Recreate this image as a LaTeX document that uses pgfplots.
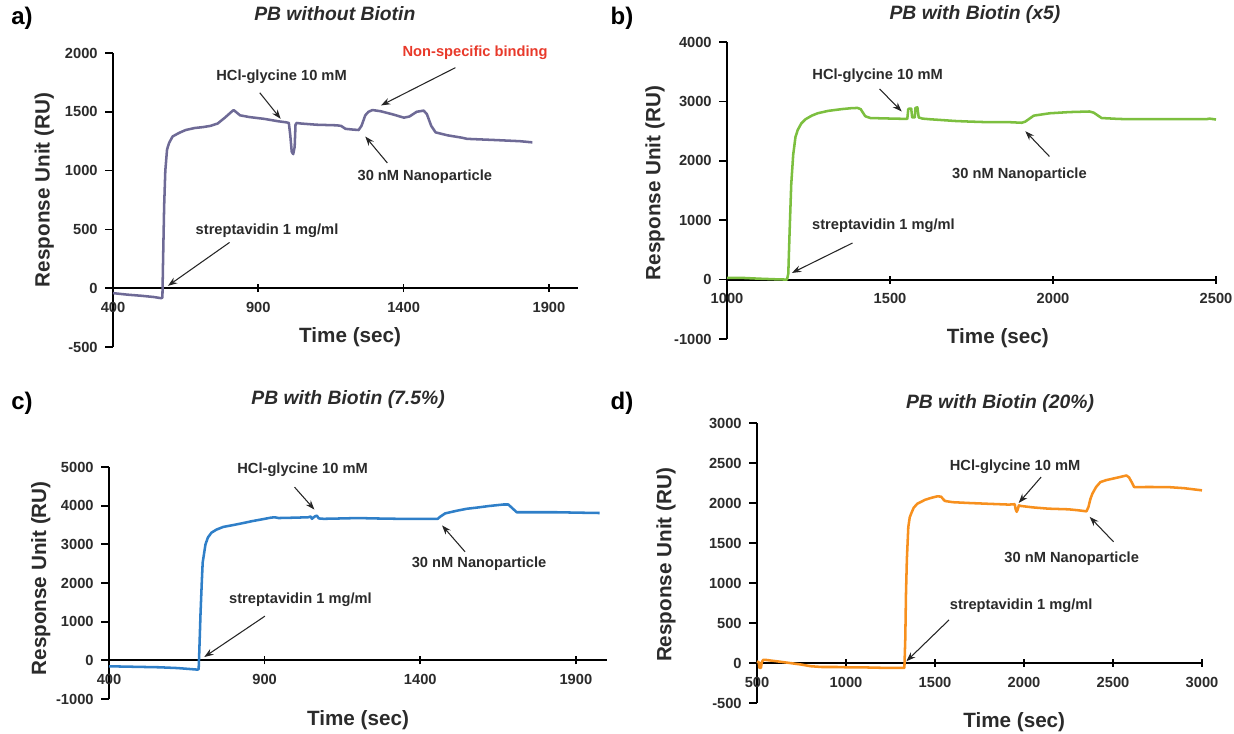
\documentclass[border=0pt]{standalone}
\usepackage{pgfplots}
\pgfplotsset{compat=1.18}
\usepackage{fontspec}
\setmainfont{Liberation Sans}
\usetikzlibrary{arrows.meta}
\definecolor{cA}{HTML}{6E6A96}
\definecolor{cB}{HTML}{7CBF3F}
\definecolor{cC}{HTML}{2F7FC8}
\definecolor{cD}{HTML}{F7901E}
\definecolor{cRed}{HTML}{E8392A}
\definecolor{txt}{HTML}{2B2B2B}
\pgfplotsset{
  every axis title shift=0pt,
  panel/.style={
    scale only axis,
    axis x line=middle, axis y line=left,
    axis line style={-, line width=1.5pt, black},
    hide obscured x ticks=false, hide obscured y ticks=false,
    xtick align=center, ytick align=outside,
    major tick length=6pt,
    every tick/.style={line width=1.3pt, black},
    tick label style={font=\bfseries\fontsize{11}{13}\selectfont, text=txt},
    xticklabel style={yshift=-4pt},
    yticklabel style={xshift=-2pt},
    label style={font=\bfseries\fontsize{15.5}{18}\selectfont, text=txt},
    title style={font=\bfseries\itshape\fontsize{14.5}{17}\selectfont, text=txt, anchor=center},
    clip=false,
    scaled ticks=false,
    /pgf/number format/1000 sep={},
    /pgf/number format/assume math mode=true,
    xlabel={Time (sec)}, ylabel={Response Unit (RU)},
  },
}
\tikzset{
  ann/.style={font=\bfseries\fontsize{11}{13}\selectfont, text=txt},
  arr/.style={-{Stealth[length=7pt,width=5pt]}, line width=0.8pt, black!85},
}
\begin{document}
\begin{tikzpicture}
\useasboundingbox (0,0) rectangle (925.5pt,550.5pt);
% panel labels
\node[font=\bfseries\fontsize{18}{20}\selectfont] at (16.5pt,537pt) {a)};
\node[font=\bfseries\fontsize{18}{20}\selectfont] at (466.5pt,537pt) {b)};
\node[font=\bfseries\fontsize{18}{20}\selectfont] at (16.5pt,248pt) {c)};
\node[font=\bfseries\fontsize{18}{20}\selectfont] at (466.5pt,248pt) {d)};

% ---------------- a
\begin{axis}[panel, at={(84.75pt,290.25pt)}, anchor=south west,
  width=348.75pt, height=220.5pt,
  xmin=400, xmax=2000, ymin=-500, ymax=2000,
  xtick={400,900,1400,1900}, ytick={-500,0,500,1000,1500,2000},
  title={PB without Biotin}, title style={at={(axis description cs:0.477,1.133)}},
  xlabel style={at={(axis description cs:0.51,0.034)}, anchor=center},
  ylabel style={at={(axis description cs:-0.148,0.534)}, anchor=center, rotate=0},
]
\addplot[cA, line width=1.9pt, line join=round] table {
400 -42
450 -55
500 -65
540 -75
566 -85
570 -80
572 200
576 700
580 1000
586 1180
593 1235
605 1290
627 1320
650 1345
681 1362
710 1370
735 1380
760 1400
785 1450
810 1505
815 1515
825 1495
837 1470
870 1455
920 1440
967 1420
997 1410
1005 1405
1010 1300
1015 1160
1020 1140
1025 1200
1028 1390
1032 1405
1048 1400
1100 1390
1170 1385
1185 1380
1200 1355
1220 1350
1245 1345
1255 1380
1268 1470
1279 1500
1293 1515
1320 1505
1360 1480
1401 1450
1420 1460
1445 1500
1469 1510
1480 1480
1495 1380
1510 1325
1551 1300
1600 1280
1618 1270
1713 1260
1800 1250
1843 1240
};
\node[ann] at (axis cs:980,1795) {HCl-glycine 10 mM};
\draw[arr] (axis cs:905,1662) -- (axis cs:977,1440);
\node[ann, text=cRed] at (axis cs:1646,2003) {Non-specific binding};
\draw[arr] (axis cs:1578,1875) -- (axis cs:1322,1554);
\node[ann] at (axis cs:1473,952) {30 nM Nanoparticle};
\draw[arr] (axis cs:1344,1065) -- (axis cs:1268,1290);
\node[ann] at (axis cs:930,489) {streptavidin 1 mg/ml};
\draw[arr] (axis cs:801,389) -- (axis cs:589,20);
\end{axis}

% ---------------- b
\begin{axis}[panel, at={(545.25pt,296.25pt)}, anchor=south west,
  width=366.75pt, height=222.75pt,
  xmin=1000, xmax=2500, ymin=-1000, ymax=4000,
  xtick={1000,1500,2000,2500}, ytick={-1000,0,1000,2000,3000,4000},
  title={PB with Biotin (x5)}, title style={at={(axis description cs:0.507,1.094)}},
  xlabel style={at={(axis description cs:0.554,0.003)}, anchor=center},
  ylabel style={at={(axis description cs:-0.147,0.525)}, anchor=center, rotate=0},
]
\addplot[cB, line width=1.9pt, line join=round] table {
1000 30
1050 28
1100 15
1150 5
1184 0
1188 100
1192 800
1197 1600
1203 2100
1210 2400
1217 2520
1228 2630
1241 2700
1260 2760
1278 2800
1310 2840
1352 2870
1380 2885
1400 2890
1410 2870
1424 2750
1440 2720
1473 2715
1510 2710
1553 2705
1556 2870
1560 2880
1565 2880
1568 2730
1576 2730
1578 2890
1584 2900
1588 2730
1600 2710
1621 2700
1700 2670
1744 2660
1800 2650
1867 2650
1904 2640
1915 2660
1941 2760
1990 2800
2050 2820
2112 2830
2125 2810
2149 2720
2200 2705
2234 2700
2300 2700
2400 2700
2470 2700
2480 2710
2500 2695
};
\node[ann] at (axis cs:1462,3434) {HCl-glycine 10 mM};
\draw[arr] (axis cs:1468,3210) -- (axis cs:1536,2829);
\node[ann] at (axis cs:1897,1770) {30 nM Nanoparticle};
\draw[arr] (axis cs:1989,2073) -- (axis cs:1915,2499);
\node[ann] at (axis cs:1480,913) {streptavidin 1 mg/ml};
\draw[arr] (axis cs:1385,616) -- (axis cs:1199,112);
\end{axis}

% ---------------- c
\begin{axis}[panel, at={(81.75pt,26.25pt)}, anchor=south west,
  width=373.5pt, height=174pt,
  xmin=400, xmax=2000, ymin=-1000, ymax=5000,
  xtick={400,900,1400,1900}, ytick={-1000,0,1000,2000,3000,4000,5000},
  title={PB with Biotin (7.5\%)}, title style={at={(axis description cs:0.48,1.289)}},
  xlabel style={at={(axis description cs:0.5,-0.09)}, anchor=center},
  ylabel style={at={(axis description cs:-0.137,0.52)}, anchor=center, rotate=0},
]
\addplot[cC, line width=1.9pt, line join=round] table {
400 -154
500 -170
563 -180
620 -200
684 -240
688 -230
690 200
694 1200
698 2000
701 2530
710 3000
718 3180
729 3300
745 3380
767 3450
800 3500
831 3550
860 3600
894 3650
920 3690
932 3700
945 3680
1000 3690
1040 3700
1048 3720
1052 3660
1058 3700
1063 3730
1068 3740
1074 3670
1090 3660
1150 3670
1201 3680
1250 3670
1329 3660
1400 3660
1456 3660
1465 3720
1480 3800
1518 3870
1550 3920
1582 3950
1620 3990
1667 4030
1683 4030
1695 3940
1710 3830
1750 3830
1836 3830
1900 3820
1976 3810
};
\node[ann] at (axis cs:1022,4940) {HCl-glycine 10 mM};
\draw[arr] (axis cs:996,4480) -- (axis cs:1060,3899);
\node[ann] at (axis cs:1589,2491) {30 nM Nanoparticle};
\draw[arr] (axis cs:1544,2807) -- (axis cs:1470,3490);
\node[ann] at (axis cs:1015,1578) {streptavidin 1 mg/ml};
\draw[arr] (axis cs:901,1143) -- (axis cs:706,85);
\end{axis}

% ---------------- d
\begin{axis}[panel, at={(567.75pt,23.25pt)}, anchor=south west,
  width=333.75pt, height=210pt,
  xmin=500, xmax=3000, ymin=-500, ymax=3000,
  xtick={500,1000,1500,2000,2500,3000}, ytick={-500,0,500,1000,1500,2000,2500,3000},
  title={PB with Biotin (20\%)}, title style={at={(axis description cs:0.546,1.068)}},
  xlabel style={at={(axis description cs:0.578,-0.068)}, anchor=center},
  ylabel style={at={(axis description cs:-0.2045,0.493)}, anchor=center, rotate=0},
]
\addplot[cD, line width=1.9pt, line join=round] table {
500 20
510 10
513 -60
522 -62
527 10
535 40
545 40
580 30
616 20
684 0
750 -20
800 -40
863 -50
950 -50
1019 -55
1100 -55
1200 -60
1243 -62
1328 -62
1333 300
1337 870
1342 1300
1350 1700
1358 1820
1366 1867
1380 1940
1400 1990
1444 2040
1480 2065
1512 2083
1534 2080
1545 2050
1556 2025
1600 2010
1691 2000
1800 1990
1915 1980
1948 1985
1953 1920
1959 1890
1965 1920
1971 1970
1982 1963
2050 1945
2138 1929
2250 1921
2300 1910
2351 1896
2362 1950
2373 2050
2384 2116
2405 2200
2429 2261
2460 2285
2496 2303
2540 2325
2575 2344
2590 2320
2605 2260
2619 2199
2700 2200
2809 2199
2900 2185
3000 2158
};
\node[ann] at (axis cs:1950,2448) {HCl-glycine 10 mM};
\draw[arr] (axis cs:2096,2324) -- (axis cs:1970,2000);
\node[ann] at (axis cs:2268,1299) {30 nM Nanoparticle};
\draw[arr] (axis cs:2503,1515) -- (axis cs:2369,1826);
\node[ann] at (axis cs:1984,718) {streptavidin 1 mg/ml};
\draw[arr] (axis cs:1579,539) -- (axis cs:1339,21);
\end{axis}
\end{tikzpicture}
\end{document}
